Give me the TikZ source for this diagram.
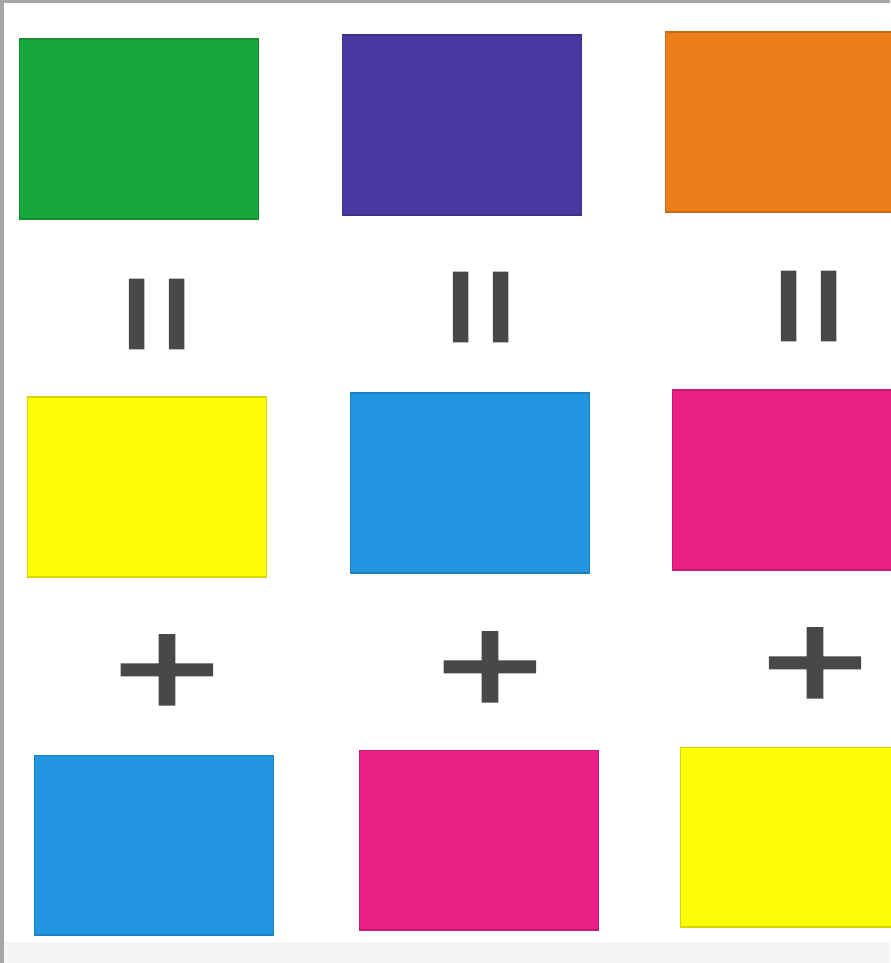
\documentclass[tikz,border=0pt]{standalone}
\usepackage{fontspec}
\newfontfamily\eqfont[FakeBold=2.5]{Liberation Sans}
\newfontfamily\plusfont[FakeBold=2]{Liberation Sans}

\definecolor{swgreen}{RGB}{22,168,58}
\definecolor{swpurple}{RGB}{74,56,160}
\definecolor{sworange}{RGB}{236,126,26}
\definecolor{swyellow}{RGB}{252,252,4}
\definecolor{swblue}{RGB}{34,150,224}
\definecolor{swmagenta}{RGB}{234,32,134}
\definecolor{signgray}{RGB}{72,72,72}

\tikzset{
  swatch/.style={fill=#1, draw=#1!85!black, line width=0.6pt,
    minimum width=4.78cm, minimum height=3.6cm, inner sep=0pt},
  eqsign/.style={text=signgray, font=\eqfont\fontsize{79}{80}\selectfont,
    inner sep=0pt, rotate=90, yscale=1.15},
  plussign/.style={text=signgray, font=\plusfont\fontsize{80}{80}\selectfont,
    inner sep=0pt, xscale=1.3}
}

\begin{document}
\begin{tikzpicture}[x=0.02cm, y=-0.02cm]

  % page frame (photo edges)
  \useasboundingbox (0,0) rectangle (890,963);
  \fill[white] (0,0) rectangle (890,963);
  \fill[black!4] (0,942) rectangle (890,963);
  \fill[black!35] (0,0) rectangle (890,3);
  \fill[black!35] (0,0) rectangle (4,963);

  % top row: mixed colours
  \node[swatch=swgreen]  (green)   at (139,129) {};
  \node[swatch=swpurple] (purple)  at (462,125) {};
  \node[swatch=sworange] (orange)  at (785,122) {};

  % equals signs
  \node[eqsign] (eq1) at (170,314) {=};
  \node[eqsign] (eq2) at (494,307) {=};
  \node[eqsign] (eq3) at (822,306) {=};

  % middle row
  \node[swatch=swyellow]  (yellowA)  at (147,487) {};
  \node[swatch=swblue]    (blueA)    at (470,483) {};
  \node[swatch=swmagenta] (magentaA) at (792,480) {};

  % plus signs
  \node[plussign] (plus1) at (167,676) {+};
  \node[plussign] (plus2) at (490,673) {+};
  \node[plussign] (plus3) at (815,669) {+};

  % bottom row
  \node[swatch=swblue]    (blueB)    at (154,845) {};
  \node[swatch=swmagenta] (magentaB) at (479,840) {};
  \node[swatch=swyellow]  (yellowB)  at (800,837) {};

\end{tikzpicture}
\end{document}
